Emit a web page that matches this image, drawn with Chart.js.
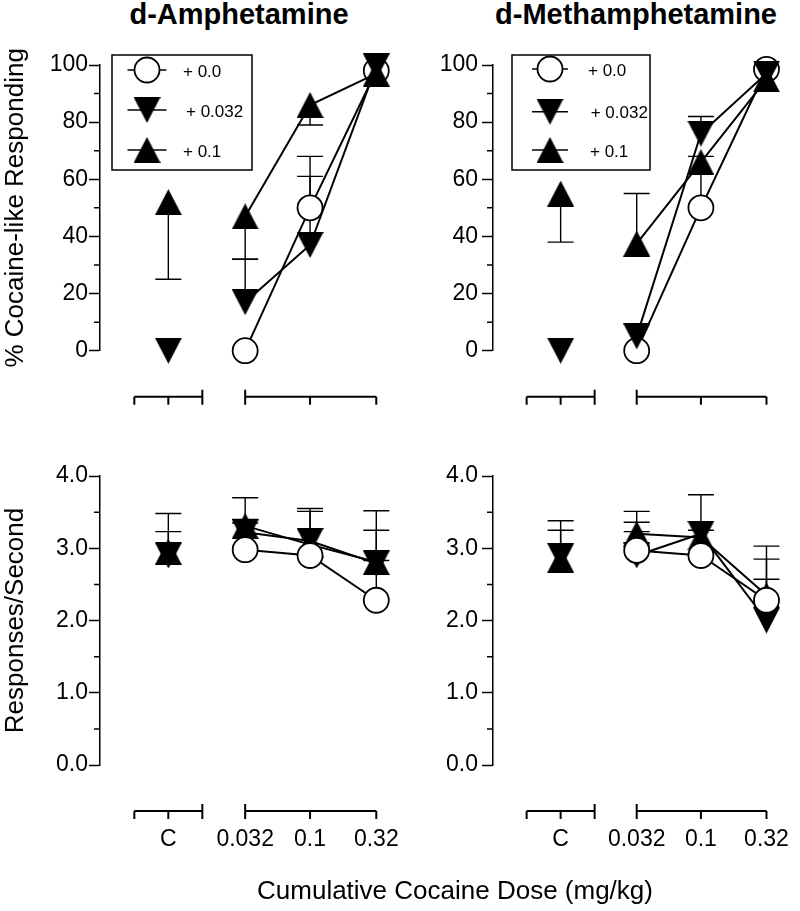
<!DOCTYPE html>
<html>
<head>
<meta charset="utf-8">
<script src="https://cdn.jsdelivr.net/npm/chart.js@4.4.0/dist/chart.umd.min.js"></script>
<style>
  html, body { margin: 0; padding: 0; background: #fff; overflow: hidden; }
  #fig { position: relative; width: 800px; height: 911px; font-family: 'Liberation Sans', Arial, sans-serif; color: #000; }
  #fig canvas { position: absolute; }
  .panel-title { position: absolute; top: 0; font-weight: bold; font-size: 29px; line-height: 1; white-space: nowrap; transform: translateX(-50%); }
  #xtitle { position: absolute; top: 877px; left: 455px; transform: translateX(-50%); font-size: 26px; line-height: 1; white-space: nowrap; }
</style>
</head>
<body>
<div id="fig">
  <div class="panel-title" style="left:239px">d-Amphetamine</div>
  <div class="panel-title" style="left:636px">d-Methamphetamine</div>
  <canvas id="ampDisc" width="410" height="430" style="left:0;top:0"></canvas>
  <canvas id="methDisc" width="400" height="430" style="left:400px;top:0"></canvas>
  <canvas id="ampRate" width="410" height="481" style="left:0;top:430px"></canvas>
  <canvas id="methRate" width="400" height="481" style="left:400px;top:430px"></canvas>
  <div id="xtitle">Cumulative Cocaine Dose (mg/kg)</div>
</div>

<script>
// ============================================================
//  Cocaine discrimination: d-amphetamine / d-methamphetamine
// ============================================================

// ─── Données ───
const DOSES = [0.032, 0.1, 0.32];            // cumulative cocaine dose (mg/kg)
const CONTROL_X = 0.0083;                    // where the "C" column sits on the log axis
const X_LABELS = ['C', '0.032', '0.1', '0.32'];
const SERIES_LABELS = ['+ 0.0', '+ 0.032', '+ 0.1'];

// d-Amphetamine : % cocaine-like responding
const ampDiscCtrl    = [null, 0, 52];        // C column (+0.0, +0.032, +0.1)
const ampDiscCtrlErr = [null, null, 25];     // value at the end of the error bar
const ampDisc00      = [0, 50, 98];
const ampDisc00Err   = [null, 68, null];
const ampDisc032     = [17, 37, 99.5];
const ampDisc032Err  = [32, 61, null];
const ampDisc01      = [47, 86, 97];
const ampDisc01Err   = [32, 79, null];

// d-Methamphetamine : % cocaine-like responding
const methDiscCtrl    = [null, 0, 55];
const methDiscCtrlErr = [null, null, 38];
const methDisc00      = [0, 50, 98.5];
const methDisc00Err   = [null, 68, null];
const methDisc032     = [5, 76, 97];
const methDisc032Err  = [null, 82, null];
const methDisc01      = [37.5, 66, 95];
const methDisc01Err   = [55, null, null];

// d-Amphetamine : responses / second
const ampRateCtrl    = [null, 2.9, 2.95];
const ampRateCtrlErr = [null, 3.23, 3.48];
const ampRate00      = [2.98, 2.9, 2.28];
const ampRate00Err   = [3.35, null, 2.83];
const ampRate032     = [3.22, 3.1, 2.79];
const ampRate032Err  = [3.40, 3.51, 3.25];
const ampRate01      = [3.31, 3.05, 2.81];
const ampRate01Err   = [3.70, 3.55, 3.52];

// d-Methamphetamine : responses / second
const methRateCtrl    = [null, 2.89, 2.84];
const methRateCtrlErr = [null, 3.25, 3.38];
const methRate00      = [2.97, 2.9, 2.28];
const methRate00Err   = [3.23, null, 2.85];
const methRate032     = [2.9, 3.2, 2.0];
const methRate032Err  = [3.36, 3.74, 2.57];
const methRate01      = [3.2, 3.15, 2.35];
const methRate01Err   = [3.51, 3.25, 3.03];

// ─── Échelle X ───
const X_MIN = 0.0025;
const X_MAX = 0.45;

// ─── Défauts globaux ───
Chart.defaults.font.family = "'Liberation Sans', Arial, sans-serif";
Chart.defaults.color = '#000';

// ─── Symboles ───
function makeTriangle(up, w, h) {
  const c = document.createElement('canvas');
  c.width = w; c.height = h;
  const g = c.getContext('2d');
  g.fillStyle = '#000';
  g.beginPath();
  if (up) { g.moveTo(w / 2, 0); g.lineTo(w, h); g.lineTo(0, h); }
  else    { g.moveTo(0, 0); g.lineTo(w, 0); g.lineTo(w / 2, h); }
  g.closePath();
  g.fill();
  return c;
}
const TRI_UP = makeTriangle(true, 27, 26);
const TRI_DOWN = makeTriangle(false, 27, 26);

const SYMBOLS = [
  { pointStyle: 'circle', pointRadius: 12.5, pointBackgroundColor: '#fff', pointBorderColor: '#000', pointBorderWidth: 1.8 },
  { pointStyle: TRI_DOWN, pointRadius: 13, pointBorderWidth: 0 },
  { pointStyle: TRI_UP,   pointRadius: 13, pointBorderWidth: 0 },
];

// ─── Plugins ───
const errorBars = {
  id: 'errorBars',
  beforeDatasetsDraw(chart, args, o) {
    const { ctx } = chart;
    const y = chart.scales.y;
    ctx.save();
    ctx.strokeStyle = '#000';
    ctx.lineWidth = o.width;
    chart.data.datasets.forEach((ds, i) => {
      const meta = chart.getDatasetMeta(i);
      (ds.errEnds || []).forEach((e, j) => {
        if (e == null || ds.data[j].y == null) return;
        const pt = meta.data[j];
        const ye = y.getPixelForValue(e);
        ctx.beginPath();
        ctx.moveTo(pt.x, pt.y);
        ctx.lineTo(pt.x, ye);
        ctx.moveTo(pt.x - o.cap, ye);
        ctx.lineTo(pt.x + o.cap, ye);
        ctx.stroke();
      });
    });
    ctx.restore();
  }
};

// axe X coupé (C | doses) + petites graduations Y
const brokenAxis = {
  id: 'brokenAxis',
  afterDraw(chart, args, o) {
    const { ctx, chartArea } = chart;
    const x = chart.scales.x, y = chart.scales.y;
    const yl = chartArea.bottom + o.offset;
    const xc = x.getPixelForValue(CONTROL_X);
    const c0 = xc - o.ctrlHalf, c1 = xc + o.ctrlHalf;
    const dPx = DOSES.map(d => x.getPixelForValue(d));
    ctx.save();
    ctx.strokeStyle = '#000';
    ctx.lineWidth = o.width;
    ctx.beginPath();
    ctx.moveTo(c0, yl); ctx.lineTo(c1, yl);
    ctx.moveTo(dPx[0], yl); ctx.lineTo(dPx[dPx.length - 1], yl);
    [c0, xc, c1, ...dPx].forEach(px => { ctx.moveTo(px, yl); ctx.lineTo(px, yl + o.tick); });
    [c1, dPx[0]].forEach(px => { ctx.moveTo(px, yl - o.breakUp); ctx.lineTo(px, yl); });
    ctx.stroke();

    ctx.lineWidth = 1.5;
    ctx.beginPath();
    for (let v = o.minor; v < y.max; v += 2 * o.minor) {
      const py = y.getPixelForValue(v);
      ctx.moveTo(chartArea.left - o.minorLen, py);
      ctx.lineTo(chartArea.left, py);
    }
    ctx.stroke();
    ctx.restore();
  }
};

const boxLegend = {
  id: 'boxLegend',
  afterDraw(chart, args, o) {
    if (!o.show) return;
    const { ctx, chartArea } = chart;
    const bx = chartArea.left + o.x, by = chartArea.top + o.y;
    ctx.save();
    ctx.strokeStyle = '#000';
    ctx.lineWidth = 1.5;
    ctx.strokeRect(bx, by, o.w, o.h);
    ctx.font = "17px 'Liberation Sans', Arial, sans-serif";
    ctx.fillStyle = '#000';
    ctx.textBaseline = 'middle';
    SERIES_LABELS.forEach((lab, i) => {
      const cy = by + o.rows[i], mx = bx + o.markerX;
      ctx.lineWidth = 1.5;
      ctx.beginPath();
      ctx.moveTo(mx - o.lineHalf, cy);
      ctx.lineTo(mx + o.lineHalf, cy);
      ctx.stroke();
      const s = SYMBOLS[i];
      if (s.pointStyle === 'circle') {
        ctx.beginPath();
        ctx.arc(mx, cy, s.pointRadius, 0, Math.PI * 2);
        ctx.fillStyle = '#fff';
        ctx.fill();
        ctx.lineWidth = s.pointBorderWidth;
        ctx.stroke();
      } else {
        ctx.drawImage(s.pointStyle, mx - s.pointStyle.width / 2, cy - s.pointStyle.height / 2);
      }
      ctx.fillStyle = '#000';
      ctx.fillText(lab, bx + o.textX[i], cy + 2);
    });
    ctx.restore();
  }
};

// ─── Construction d'un panneau ───
function buildPanel(canvasId, p) {
  const datasets = [];
  p.series.forEach((s, i) => {
    const style = SYMBOLS[i];
    const order = p.orders[i];
    datasets.push({
      label: SERIES_LABELS[i],
      data: DOSES.map((d, j) => ({ x: d, y: s.vals[j] })),
      errEnds: s.err,
      borderColor: '#000',
      borderWidth: 2,
      tension: 0,
      fill: false,
      clip: false,
      order,
      ...style,
    });
    if (p.ctrl[i] != null) {
      datasets.push({
        label: SERIES_LABELS[i] + ' (C)',
        data: [{ x: CONTROL_X, y: p.ctrl[i] }],
        errEnds: [p.ctrlErr[i]],
        showLine: false,
        clip: false,
        order,
        ...style,
      });
    }
  });

  return new Chart(document.getElementById(canvasId), {
    type: 'line',
    data: { datasets },
    plugins: [errorBars, brokenAxis, boxLegend],
    options: {
      responsive: false,
      animation: false,
      events: [],
      layout: { padding: { top: p.padTop, right: p.padRight, left: 0, bottom: 0 } },
      plugins: {
        legend: { display: false },
        tooltip: { enabled: false },
        errorBars: { width: 1.4, cap: 13 },
        brokenAxis: { offset: 46, width: 2, tick: 8, breakUp: 7, ctrlHalf: 34, minor: p.yMinor, minorLen: 6 },
        boxLegend: p.legend || { show: false },
      },
      scales: {
        x: {
          type: 'logarithmic',
          min: X_MIN,
          max: X_MAX,
          afterBuildTicks: s => { s.ticks = [CONTROL_X, ...DOSES].map(v => ({ value: v })); },
          afterFit: s => { s.height = p.xAxisHeight; },
          border: { display: false },
          grid: { display: false, drawTicks: true, tickLength: 61 },
          ticks: {
            display: p.showXLabels,
            autoSkip: false,
            maxRotation: 0,
            padding: 0,
            font: { size: 23 },
            callback: (v, i) => X_LABELS[i],
          },
        },
        y: {
          min: 0,
          max: p.yMax,
          afterFit: s => { s.width = p.axisWidth; },
          border: { color: '#000', width: 1.5 },
          grid: { drawOnChartArea: false, drawTicks: true, tickLength: 11, color: '#000', tickColor: '#000', tickWidth: 1.5 },
          ticks: { stepSize: p.yStep, padding: p.tickPad, font: { size: 23 }, callback: p.yFmt },
          title: {
            display: !!p.yTitle,
            text: p.yTitle,
            font: { size: 26 },
            padding: { top: 0, bottom: 0 },
          },
        },
      },
    },
  });
}

const TOP = { yMax: 100, yStep: 20, yMinor: 10, yFmt: v => v, padTop: 65, xAxisHeight: 79.3, showXLabels: false };
const BOTTOM = { yMax: 4, yStep: 1, yMinor: 0.5, yFmt: v => v.toFixed(1), padTop: 46, xAxisHeight: 146, showXLabels: true };

buildPanel('ampDisc', {
  ...TOP,
  yTitle: '% Cocaine-like Responding',
  axisWidth: 100, padRight: 13, tickPad: 1,
  ctrl: ampDiscCtrl, ctrlErr: ampDiscCtrlErr,
  series: [
    { vals: ampDisc00, err: ampDisc00Err },
    { vals: ampDisc032, err: ampDisc032Err },
    { vals: ampDisc01, err: ampDisc01Err },
  ],
  orders: [3, 2, 1],
  legend: { show: true, x: 12, y: -10, w: 140, h: 115, rows: [15, 55, 95], markerX: 35, lineHalf: 19.5, textX: [71, 74, 71] },
});

buildPanel('methDisc', {
  ...TOP,
  yTitle: '',
  axisWidth: 93, padRight: 3.25, tickPad: 4,
  ctrl: methDiscCtrl, ctrlErr: methDiscCtrlErr,
  series: [
    { vals: methDisc00, err: methDisc00Err },
    { vals: methDisc032, err: methDisc032Err },
    { vals: methDisc01, err: methDisc01Err },
  ],
  orders: [3, 2, 1],
  legend: { show: true, x: 19, y: -10, w: 138, h: 115, rows: [14, 56.7, 95], markerX: 38, lineHalf: 18, textX: [76, 78.7, 78] },
});

buildPanel('ampRate', {
  ...BOTTOM,
  yTitle: 'Responses/Second',
  axisWidth: 100, padRight: 8.5, tickPad: 1,
  ctrl: ampRateCtrl, ctrlErr: ampRateCtrlErr,
  series: [
    { vals: ampRate00, err: ampRate00Err },
    { vals: ampRate032, err: ampRate032Err },
    { vals: ampRate01, err: ampRate01Err },
  ],
  orders: [0, 2, 1],
});

buildPanel('methRate', {
  ...BOTTOM,
  yTitle: '',
  axisWidth: 93, padRight: 3.25, tickPad: 4,
  ctrl: methRateCtrl, ctrlErr: methRateCtrlErr,
  series: [
    { vals: methRate00, err: methRate00Err },
    { vals: methRate032, err: methRate032Err },
    { vals: methRate01, err: methRate01Err },
  ],
  orders: [0, 2, 1],
});
</script>
</body>
</html>
